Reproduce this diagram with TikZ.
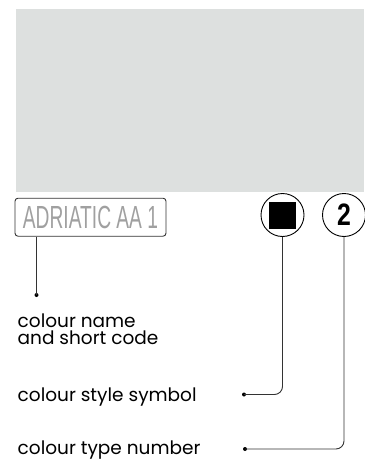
\documentclass[tikz,border=0pt]{standalone}
\usepackage{fontspec}
\setmainfont{Poppins}
\newfontfamily\labfont{Liberation Sans}
\usetikzlibrary{calc}
\definecolor{panelgrey}{HTML}{DDE0DF}
\definecolor{labelgrey}{HTML}{A0A0A0}
\definecolor{linegrey}{HTML}{333333}
\tikzset{
  conn/.style={draw=linegrey, line width=0.9pt},
  enddot/.style={circle, fill=black, inner sep=0pt, minimum size=4pt},
  caption/.style={anchor=base west, inner sep=0pt, font=\fontsize{18.5}{17}\selectfont, align=left},
  ring/.style={circle, draw=black, line width=0.9pt, minimum size=43pt, inner sep=0pt},
}
\begin{document}
\begin{tikzpicture}[x=1pt,y=-1pt]
\useasboundingbox (0,0) rectangle (364,460);
\fill[panelgrey] (16,9) rectangle (364,192);
% colour name box
\node[draw=linegrey, line width=0.9pt, rounded corners=3pt, minimum width=151pt, minimum height=38pt, inner sep=0pt, text=labelgrey] (name) at (90.5,217.2)
  {\scalebox{0.6}[1]{\labfont\fontsize{32}{32}\selectfont ADRIATIC AA 1}};
% style symbol
\node[ring] (sym) at (282.5,215) {};
\fill[black] ($(sym.center)+(-13.5,-13.5)$) rectangle ($(sym.center)+(13.5,13.5)$);
% type number
\node[ring, font=\labfont\bfseries\fontsize{31}{31}\selectfont] (num) at (344,215) {\scalebox{0.8}[1]{2}};
% end dots
\node[enddot] (d1) at (36.5,295) {};
\node[enddot] (d2) at (244,394.5) {};
\node[enddot] (d3) at (245,449) {};
% captions
\node[caption] (c1) at (17.5,344.3) {colour name\\and short code};
\node[caption] (c2) at (17.5,401.5) {colour style symbol};
\node[caption] (c3) at (17.5,454.5) {colour type number};
% connectors
\draw[conn] (name.south -| d1) -- (d1.center);
\draw[conn, rounded corners=8pt] (sym.south) |- (d2.center);
\draw[conn, rounded corners=8pt] (num.south) |- (d3.center);
\end{tikzpicture}
\end{document}
